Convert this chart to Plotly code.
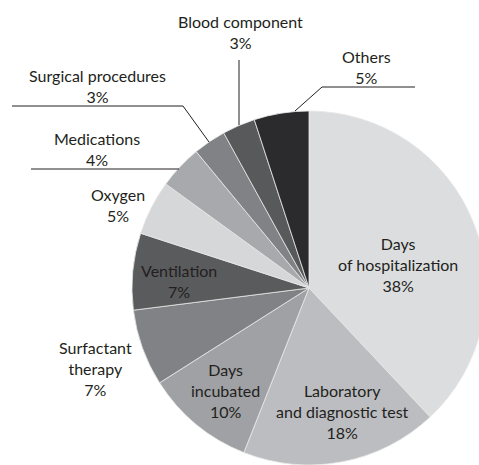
import plotly.graph_objects as go

# ---- data ----
categories = ["Days<br>of hospitalization", "Laboratory<br>and diagnostic test", "Days<br>incubated",
              "Surfactant<br>therapy", "Ventilation", "Oxygen", "Medications",
              "Surgical procedures", "Blood component", "Others"]
shares = [38, 18, 10, 7, 7, 5, 4, 3, 3, 5]

# ---- styling / layout (pixels) ----
W, H = 500, 465
colors = ["#dcdddf", "#bcbdc0", "#a0a1a4", "#808285", "#5a5b5d",
          "#d6d7d9", "#a8a9ac", "#808285", "#58595b", "#2b2a2c"]
cx, cy, r = 309, 288, 177
# label centers (px) for each category, in same order
label_pos = [(398, 264), (342, 411), (225, 390), (95, 368), (179, 281),
             (118, 205), (97, 149), (97, 86), (240, 32), (366, 67)]
# leader lines (px)
leaders = [None, None, None, None, None, None,
           [(31, 169), (179, 169)],
           [(12, 106), (183, 106), (209, 142)],
           [(239, 60), (239, 125)],
           [(415, 87), (322, 87), (295, 111)]]

fig = go.Figure()
fig.add_trace(go.Pie(
    labels=[c.replace("<br>", " ") for c in categories], values=shares, sort=False,
    direction="clockwise", rotation=0, textinfo="none", hoverinfo="label+percent",
    marker=dict(colors=colors, line=dict(color="#e8e8e8", width=0.8)),
    domain=dict(x=[(cx - r) / W, (cx + r) / W], y=[(H - cy - r) / H, (H - cy + r) / H]),
    showlegend=False,
))

font = dict(family="Lato, 'Open Sans', sans-serif", size=16, color="#231f20")
for cat, v, (x, y) in zip(categories, shares, label_pos):
    fig.add_annotation(x=x, y=y, xref="x", yref="y", text=f"{cat}<br>{v}%",
                       showarrow=False, font=font, align="center",
                       xanchor="center", yanchor="middle")
for pts in leaders:
    if pts:
        path = "M " + " L ".join(f"{x},{y}" for x, y in pts)
        fig.add_shape(type="path", path=path, xref="x", yref="y",
                      line=dict(color="#231f20", width=1))

fig.update_xaxes(range=[0, W], visible=False, domain=[0, 1], fixedrange=True)
fig.update_yaxes(range=[H, 0], visible=False, domain=[0, 1], fixedrange=True)
fig.update_layout(width=W, height=H, margin=dict(l=0, r=0, t=0, b=0),
                  paper_bgcolor="white", plot_bgcolor="rgba(0,0,0,0)")

fig.write_html("out.html", config={"displayModeBar": False}, post_script=(
    "document.body.style.margin='0';document.body.style.overflow='hidden';"
    "document.documentElement.style.overflow='hidden';"))
